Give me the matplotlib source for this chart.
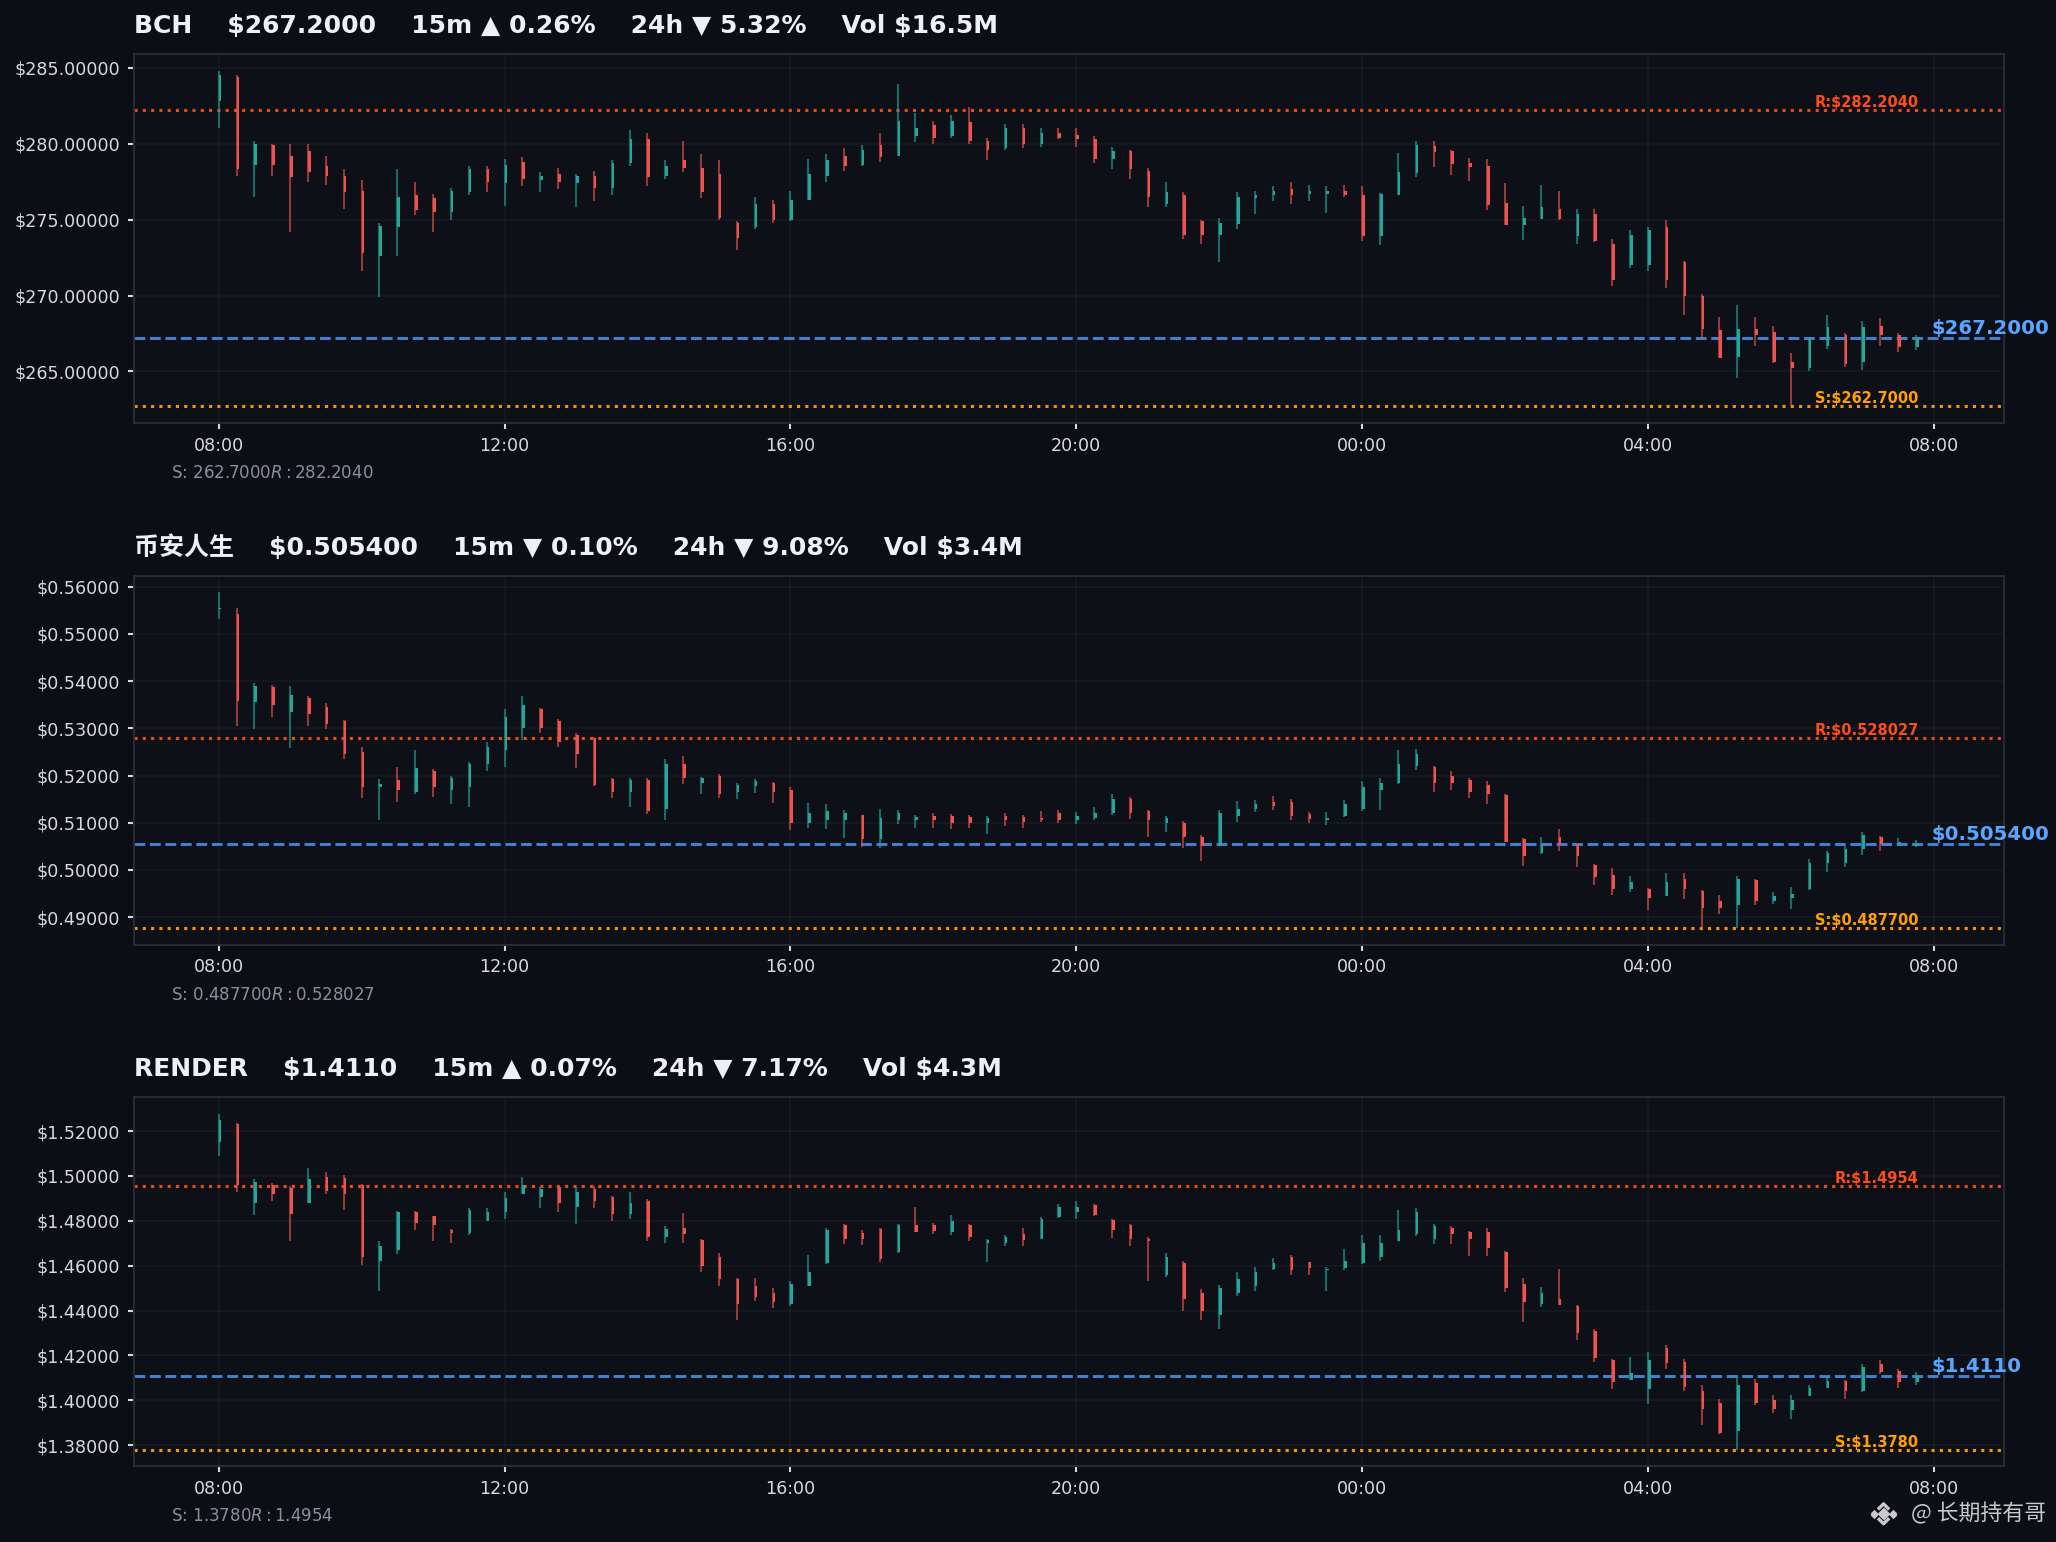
import matplotlib
matplotlib.use("Agg")
import matplotlib.pyplot as plt
import matplotlib.dates as mdates
import pandas as pd
from matplotlib.ticker import FuncFormatter

# 15m candles, 24h window
times = pd.date_range("2025-10-14 08:00", periods=96, freq="15min")

tickers = ["BCH", "币安人生", "RENDER"]
last_price = [267.2, 0.5054, 1.411]
chg_15m = [0.26, -0.10, 0.07]
chg_24h = [-5.32, -9.08, -7.17]
volume = ["$16.5M", "$3.4M", "$4.3M"]
support = [262.7, 0.4877, 1.378]
resistance = [282.204, 0.528027, 1.4954]

bch_open = [282.8, 284.4, 278.6, 279.9, 279.2, 279.5, 278.5, 277.9, 276.9, 272.6, 274.5, 276.6,
            276.4, 275.5, 276.8, 278.3, 277.4, 278.8, 277.6, 278.0, 277.4, 277.9, 277.1, 278.7,
            280.3, 277.9, 278.9, 278.4, 278.0, 274.8, 274.5, 276.0, 275.0, 276.3, 277.9, 279.2,
            278.6, 279.9, 279.2, 280.5, 281.2, 280.5, 281.4, 280.2, 279.7, 281.0, 280.0, 280.7,
            280.6, 280.3, 279.0, 279.5, 278.2, 276.0, 276.6, 274.9, 274.0, 274.7, 276.4, 276.6,
            277.0, 276.66, 276.66, 276.86, 276.64, 273.9, 276.64, 278.09, 279.87, 279.54, 278.75, 278.55,
            276.12, 274.67, 275.07, 275.72, 273.9, 275.4, 273.4, 272.0, 272.0, 274.5, 272.2, 270.0,
            267.7, 265.95, 267.8, 267.6, 265.6, 265.2, 266.7, 267.4, 265.6, 268.0, 267.4, 266.6]
bch_high = [284.8, 284.5, 280.2, 280.0, 280.0, 280.0, 279.2, 278.3, 277.6, 274.8, 278.3, 277.5,
            276.7, 277.1, 278.5, 278.5, 279.0, 279.1, 278.1, 278.4, 278.0, 278.2, 278.9, 280.9,
            280.7, 278.9, 280.2, 279.3, 278.9, 274.9, 276.5, 276.3, 276.9, 279.0, 279.3, 279.7,
            279.9, 280.7, 283.9, 282.0, 281.5, 281.9, 282.4, 280.4, 281.3, 281.3, 281.0, 281.0,
            281.0, 280.5, 279.8, 279.6, 278.4, 277.5, 276.8, 275.0, 275.1, 276.8, 276.9, 277.2,
            277.5, 277.3, 277.24, 277.3, 277.24, 276.75, 279.41, 280.19, 280.19, 279.6, 279.08, 279.01,
            277.43, 275.92, 277.3, 276.91, 275.7, 275.7, 273.7, 274.3, 274.5, 275.0, 272.3, 270.1,
            268.6, 269.4, 268.6, 268.0, 266.2, 267.2, 268.7, 267.5, 268.3, 268.5, 267.5, 267.4]
bch_low = [281.0, 277.9, 276.5, 277.9, 274.2, 277.5, 277.3, 275.7, 271.6, 269.9, 272.6, 275.3,
           274.2, 275.0, 276.6, 276.8, 275.9, 277.2, 276.8, 277.0, 275.8, 276.2, 276.6, 278.5,
           277.2, 277.7, 278.1, 276.4, 275.0, 273.0, 274.4, 274.8, 274.9, 276.3, 277.5, 278.2,
           278.5, 278.8, 279.2, 280.1, 280.0, 280.4, 280.0, 278.9, 279.6, 279.7, 279.8, 280.3,
           279.8, 278.7, 278.3, 277.7, 275.8, 275.8, 273.7, 273.4, 272.2, 274.4, 275.4, 276.2,
           276.0, 276.25, 275.41, 276.5, 273.57, 273.31, 276.64, 277.78, 278.48, 277.95, 277.56, 275.66,
           274.67, 273.68, 275.07, 275.0, 273.4, 273.5, 270.6, 271.8, 271.6, 270.5, 268.7, 267.1,
           265.9, 264.6, 266.7, 265.55, 262.7, 265.0, 266.45, 265.3, 265.1, 266.7, 266.3, 266.4]
bch_close = [284.5, 278.3, 280.0, 278.6, 277.8, 278.1, 277.9, 276.8, 272.8, 274.6, 276.5, 275.6,
             275.5, 276.9, 278.3, 277.5, 278.6, 277.7, 277.9, 277.5, 277.9, 277.1, 278.7, 280.3,
             277.8, 278.5, 278.4, 276.8, 275.1, 273.8, 276.0, 275.0, 276.3, 278.0, 278.9, 278.5,
             279.6, 279.1, 281.5, 281.0, 280.4, 281.5, 280.2, 279.6, 281.0, 280.0, 280.7, 280.4,
             280.3, 279.0, 279.5, 278.3, 276.5, 276.8, 274.0, 274.0, 274.8, 276.5, 276.6, 276.9,
             276.6, 276.86, 276.86, 276.6, 273.95, 276.69, 278.16, 279.93, 279.47, 278.68, 278.48, 275.99,
             274.67, 275.13, 275.86, 275.07, 275.4, 273.6, 271.0, 274.0, 274.3, 271.0, 270.0, 267.8,
             265.9, 267.8, 267.4, 265.6, 265.2, 267.2, 267.9, 265.5, 267.9, 267.4, 266.6, 267.2]

bnb_open = [0.5552, 0.5543, 0.5355, 0.5388, 0.5335, 0.5365, 0.5345, 0.5315, 0.5250, 0.5175, 0.5190, 0.5165,
            0.5210, 0.5170, 0.5175, 0.5225, 0.5255, 0.5300, 0.5342, 0.5315, 0.5285, 0.5280, 0.5192, 0.5165,
            0.5190, 0.5130, 0.5225, 0.5185, 0.5198, 0.5165, 0.5178, 0.5185, 0.5170, 0.5100, 0.5105, 0.5105,
            0.5117, 0.5065, 0.5105, 0.5105, 0.5115, 0.5115, 0.5112, 0.5100, 0.5115, 0.5112, 0.5110, 0.5120,
            0.5105, 0.5110, 0.5120, 0.5150, 0.5125, 0.5100, 0.5100, 0.5070, 0.5050, 0.5115, 0.5130, 0.5145,
            0.5145, 0.5118, 0.5105, 0.5115, 0.5130, 0.5170, 0.5185, 0.5220, 0.5218, 0.5200, 0.5190, 0.5180,
            0.5158, 0.5065, 0.5035, 0.5070, 0.5055, 0.5010, 0.4990, 0.4960, 0.4960, 0.4945, 0.4980, 0.4955,
            0.4935, 0.4925, 0.4978, 0.4935, 0.4940, 0.4960, 0.5015, 0.5015, 0.5045, 0.5070, 0.5055, 0.5050]
bnb_high = [0.5588, 0.5556, 0.5397, 0.5392, 0.5389, 0.5368, 0.5353, 0.5318, 0.5260, 0.5193, 0.5218, 0.5254,
            0.5214, 0.5200, 0.5228, 0.5272, 0.5341, 0.5368, 0.5344, 0.5320, 0.5290, 0.5281, 0.5194, 0.5194,
            0.5194, 0.5235, 0.5241, 0.5196, 0.5203, 0.5184, 0.5193, 0.5186, 0.5175, 0.5141, 0.5140, 0.5127,
            0.5117, 0.5129, 0.5128, 0.5117, 0.5120, 0.5119, 0.5117, 0.5115, 0.5120, 0.5117, 0.5124, 0.5126,
            0.5122, 0.5133, 0.5161, 0.5154, 0.5126, 0.5114, 0.5103, 0.5074, 0.5127, 0.5146, 0.5148, 0.5156,
            0.5151, 0.5122, 0.5122, 0.5148, 0.5188, 0.5195, 0.5255, 0.5256, 0.5221, 0.5209, 0.5194, 0.5188,
            0.5160, 0.5068, 0.5069, 0.5087, 0.5055, 0.5013, 0.5004, 0.4988, 0.4962, 0.4993, 0.4993, 0.4957,
            0.4946, 0.4988, 0.4981, 0.4953, 0.4964, 0.5024, 0.5040, 0.5050, 0.5080, 0.5071, 0.5068, 0.5064]
bnb_low = [0.5532, 0.5304, 0.5298, 0.5323, 0.5258, 0.5304, 0.5298, 0.5235, 0.5153, 0.5106, 0.5144, 0.5161,
           0.5154, 0.5140, 0.5134, 0.5209, 0.5219, 0.5275, 0.5291, 0.5260, 0.5216, 0.5178, 0.5153, 0.5133,
           0.5119, 0.5105, 0.5182, 0.5161, 0.5153, 0.5150, 0.5163, 0.5142, 0.5084, 0.5089, 0.5087, 0.5068,
           0.5048, 0.5047, 0.5098, 0.5089, 0.5089, 0.5087, 0.5089, 0.5077, 0.5094, 0.5089, 0.5101, 0.5099,
           0.5098, 0.5105, 0.5117, 0.5108, 0.5070, 0.5080, 0.5047, 0.5019, 0.5050, 0.5101, 0.5122, 0.5126,
           0.5106, 0.5099, 0.5096, 0.5113, 0.5124, 0.5126, 0.5182, 0.5212, 0.5165, 0.5170, 0.5153, 0.5140,
           0.5059, 0.5009, 0.5033, 0.5041, 0.5006, 0.4969, 0.4946, 0.4953, 0.4916, 0.4944, 0.4939, 0.4877,
           0.4906, 0.4877, 0.4925, 0.4928, 0.4917, 0.4957, 0.4996, 0.5006, 0.5031, 0.5040, 0.5050, 0.5048]
bnb_close = [0.5555, 0.5358, 0.5390, 0.5350, 0.5370, 0.5330, 0.5310, 0.5245, 0.5175, 0.5182, 0.5170, 0.5215,
             0.5175, 0.5195, 0.5225, 0.5260, 0.5325, 0.5350, 0.5300, 0.5272, 0.5245, 0.5180, 0.5165, 0.5190,
             0.5125, 0.5225, 0.5195, 0.5195, 0.5160, 0.5180, 0.5188, 0.5165, 0.5100, 0.5120, 0.5125, 0.5120,
             0.5065, 0.5110, 0.5120, 0.5112, 0.5105, 0.5100, 0.5100, 0.5110, 0.5105, 0.5102, 0.5105, 0.5105,
             0.5115, 0.5120, 0.5150, 0.5120, 0.5105, 0.5110, 0.5070, 0.5050, 0.5120, 0.5130, 0.5140, 0.5135,
             0.5115, 0.5108, 0.5110, 0.5140, 0.5175, 0.5185, 0.5225, 0.5245, 0.5185, 0.5185, 0.5165, 0.5160,
             0.5060, 0.5030, 0.5055, 0.5055, 0.5030, 0.4985, 0.4960, 0.4975, 0.4940, 0.4975, 0.4960, 0.4920,
             0.4920, 0.4980, 0.4935, 0.4945, 0.4950, 0.5015, 0.5035, 0.5045, 0.5075, 0.5055, 0.5060, 0.5054]

render_open = [1.5150, 1.5230, 1.4880, 1.4960, 1.4945, 1.4880, 1.4995, 1.4990, 1.4960, 1.4620, 1.4670, 1.4840,
               1.4820, 1.4760, 1.4745, 1.4800, 1.4840, 1.4920, 1.4905, 1.4950, 1.4860, 1.4940, 1.4905, 1.4830,
               1.4890, 1.4730, 1.4770, 1.4715, 1.4640, 1.4540, 1.4510, 1.4480, 1.4430, 1.4510, 1.4610, 1.4780,
               1.4745, 1.4765, 1.4660, 1.4780, 1.4780, 1.4750, 1.4780, 1.4700, 1.4700, 1.4740, 1.4720, 1.4815,
               1.4840, 1.4870, 1.4805, 1.4780, 1.4720, 1.4560, 1.4610, 1.4480, 1.4380, 1.4480, 1.4510, 1.4585,
               1.4640, 1.4615, 1.4580, 1.4590, 1.4610, 1.4640, 1.4710, 1.4740, 1.4720, 1.4770, 1.4750, 1.4750,
               1.4660, 1.4520, 1.4430, 1.4450, 1.4420, 1.4310, 1.4180, 1.4090, 1.4050, 1.4235, 1.4170, 1.4040,
               1.3990, 1.3865, 1.4075, 1.4000, 1.3955, 1.4020, 1.4055, 1.4085, 1.4040, 1.4160, 1.4130, 1.4080]
render_high = [1.5276, 1.5236, 1.4987, 1.4969, 1.4957, 1.5034, 1.5016, 1.5004, 1.4964, 1.4712, 1.4846, 1.4846,
               1.4823, 1.4762, 1.4856, 1.4856, 1.4927, 1.4994, 1.4950, 1.4957, 1.4950, 1.4957, 1.4912, 1.4927,
               1.4898, 1.4779, 1.4835, 1.4717, 1.4657, 1.4546, 1.4546, 1.4500, 1.4530, 1.4648, 1.4767, 1.4786,
               1.4757, 1.4768, 1.4786, 1.4860, 1.4790, 1.4826, 1.4786, 1.4717, 1.4737, 1.4767, 1.4816, 1.4875,
               1.4890, 1.4875, 1.4809, 1.4786, 1.4727, 1.4657, 1.4623, 1.4497, 1.4515, 1.4574, 1.4593, 1.4633,
               1.4648, 1.4616, 1.4593, 1.4675, 1.4737, 1.4737, 1.4849, 1.4856, 1.4786, 1.4776, 1.4754, 1.4767,
               1.4665, 1.4544, 1.4504, 1.4586, 1.4426, 1.4316, 1.4182, 1.4193, 1.4215, 1.4248, 1.4182, 1.4067,
               1.4007, 1.4111, 1.4096, 1.4025, 1.4025, 1.4067, 1.4114, 1.4089, 1.4163, 1.4178, 1.4138, 1.4126]
render_low = [1.5091, 1.4930, 1.4826, 1.4890, 1.4708, 1.4880, 1.4920, 1.4850, 1.4601, 1.4489, 1.4653, 1.4761,
              1.4708, 1.4700, 1.4737, 1.4800, 1.4809, 1.4920, 1.4856, 1.4841, 1.4786, 1.4856, 1.4801, 1.4809,
              1.4708, 1.4700, 1.4700, 1.4571, 1.4509, 1.4360, 1.4441, 1.4411, 1.4420, 1.4509, 1.4608, 1.4697,
              1.4693, 1.4618, 1.4657, 1.4749, 1.4740, 1.4737, 1.4708, 1.4618, 1.4690, 1.4690, 1.4720, 1.4811,
              1.4809, 1.4820, 1.4722, 1.4690, 1.4530, 1.4549, 1.4400, 1.4360, 1.4319, 1.4467, 1.4489, 1.4579,
              1.4559, 1.4559, 1.4489, 1.4579, 1.4608, 1.4623, 1.4708, 1.4731, 1.4697, 1.4697, 1.4642, 1.4642,
              1.4482, 1.4349, 1.4415, 1.4423, 1.4267, 1.4170, 1.4049, 1.4089, 1.3985, 1.4141, 1.4040, 1.3888,
              1.3851, 1.3780, 1.3977, 1.3945, 1.3918, 1.4018, 1.4055, 1.4007, 1.4037, 1.4118, 1.4055, 1.4069]
render_close = [1.5250, 1.4960, 1.4975, 1.4920, 1.4830, 1.4985, 1.4935, 1.4920, 1.4640, 1.4690, 1.4840, 1.4790,
                1.4780, 1.4745, 1.4850, 1.4840, 1.4900, 1.4960, 1.4940, 1.4880, 1.4930, 1.4890, 1.4830, 1.4880,
                1.4730, 1.4765, 1.4740, 1.4600, 1.4540, 1.4430, 1.4460, 1.4440, 1.4520, 1.4570, 1.4760, 1.4720,
                1.4720, 1.4630, 1.4780, 1.4750, 1.4755, 1.4800, 1.4730, 1.4715, 1.4730, 1.4715, 1.4810, 1.4860,
                1.4860, 1.4825, 1.4760, 1.4720, 1.4710, 1.4640, 1.4450, 1.4400, 1.4500, 1.4540, 1.4570, 1.4610,
                1.4580, 1.4590, 1.4585, 1.4620, 1.4700, 1.4700, 1.4760, 1.4840, 1.4775, 1.4740, 1.4720, 1.4680,
                1.4500, 1.4440, 1.4480, 1.4425, 1.4300, 1.4190, 1.4080, 1.4120, 1.4180, 1.4165, 1.4060, 1.3960,
                1.3855, 1.4070, 1.3990, 1.3960, 1.4000, 1.4055, 1.4085, 1.4040, 1.4150, 1.4125, 1.4080, 1.4110]

ohlc = [
    (bch_open, bch_high, bch_low, bch_close),
    (bnb_open, bnb_high, bnb_low, bnb_close),
    (render_open, render_high, render_low, render_close),
]

BG = "#0b0e14"
PANEL = "#0d1017"
UP = "#26a69a"
DOWN = "#ef5350"


def fmt_price(p):
    return f"{p:.4f}" if p >= 1 else f"{p:.6f}"


def arrow(v):
    return "▲" if v >= 0 else "▼"


fig, axes = plt.subplots(3, 1, figsize=(2056 / 150, 1542 / 150), dpi=150, facecolor=BG)
fig.subplots_adjust(left=0.065, right=0.9745, top=0.965, bottom=0.049, hspace=0.413)

x = mdates.date2num(times)

for k, ax in enumerate(axes):
    o, h, l, c = ohlc[k]
    ax.set_facecolor(PANEL)
    cols = [UP if cc >= oo else DOWN for oo, cc in zip(o, c)]
    ax.vlines(x, l, h, colors=cols, linewidth=1.0, alpha=0.6, zorder=3)
    minh = last_price[k] * 0.0002
    bottoms = [min(oo, cc) for oo, cc in zip(o, c)]
    heights = [max(abs(cc - oo), minh) for oo, cc in zip(o, c)]
    ax.bar(x, heights, bottom=bottoms, width=0.0015, align="edge",
           color=cols, linewidth=0, zorder=4)

    ax.axhline(resistance[k], color="#e8491d", linestyle=":", linewidth=1.5, zorder=2)
    ax.axhline(support[k], color="#f0950c", linestyle=":", linewidth=1.5, zorder=2)
    ax.axhline(last_price[k], color="#3f83d1", linestyle="--", linewidth=1.4, zorder=2)

    ax.text(x[-1] + 2 / 1440, resistance[k], f"R:${fmt_price(resistance[k])}", color="#ff4d1a",
            fontsize=7, fontweight="bold", ha="right", va="bottom", zorder=5)
    ax.text(x[-1] + 2 / 1440, support[k], f"S:${fmt_price(support[k])}", color="#ffa000",
            fontsize=7, fontweight="bold", ha="right", va="bottom", zorder=5)
    ax.text(x[-1] + 13 / 1440, last_price[k], f"${fmt_price(last_price[k])}", color="#58a6ff",
            fontsize=9.5, fontweight="bold", ha="left", va="bottom", clip_on=False, zorder=5)

    title = (f"{tickers[k]}    \\${fmt_price(last_price[k])}    "
             f"15m {arrow(chg_15m[k])} {abs(chg_15m[k]):.2f}%    "
             f"24h {arrow(chg_24h[k])} {abs(chg_24h[k]):.2f}%    Vol \\{volume[k]}")
    ax.set_title(title, loc="left", color="#eef0f4", fontsize=12, fontweight="bold",
                 pad=10, family=["DejaVu Sans", "Noto Sans CJK SC"])

    # mathtext eats the dollar signs here, as in the original
    ax.text(0.02, -0.135, f"S: ${fmt_price(support[k])}   R: ${fmt_price(resistance[k])}",
            transform=ax.transAxes, color="#8a909b", fontsize=8, va="center")

    ax.xaxis.set_major_locator(mdates.HourLocator(byhour=[0, 4, 8, 12, 16, 20]))
    ax.xaxis.set_major_formatter(mdates.DateFormatter("%H:%M"))
    ax.yaxis.set_major_formatter(FuncFormatter(lambda v, _: f"${v:.5f}"))
    ax.tick_params(colors="#d6d9df", labelsize=8.4, length=3, width=1)
    ax.grid(True, color="#ffffff", alpha=0.035, linewidth=0.8)
    for sp in ax.spines.values():
        sp.set_color("#252a34")
        sp.set_linewidth(1.0)

# watermark
fig.text(0.995, 0.018, "@ 长期持有哥", color="#c9c9c9", fontsize=10.5, ha="right", va="center",
         family=["Noto Sans CJK SC", "DejaVu Sans"])
lax = fig.add_axes([1427 / 1568, 1 - 1164 / 1176, 19 / 1568, 19 / 1176])
lax.set_xlim(-1, 1)
lax.set_ylim(-1, 1)
lax.axis("off")
lax.plot([0], [0], marker="D", markersize=3.2, color="#c9c9c9", linestyle="none")
lax.plot([-0.78, 0.78], [0, 0], marker="D", markersize=2.2, color="#c9c9c9", linestyle="none")
lax.plot([-0.45, 0, 0.45], [0.35, 0.8, 0.35], color="#c9c9c9", linewidth=1.6, solid_capstyle="butt")
lax.plot([-0.45, 0, 0.45], [-0.35, -0.8, -0.35], color="#c9c9c9", linewidth=1.6, solid_capstyle="butt")

fig.savefig("out.png", dpi=150, facecolor=BG)
